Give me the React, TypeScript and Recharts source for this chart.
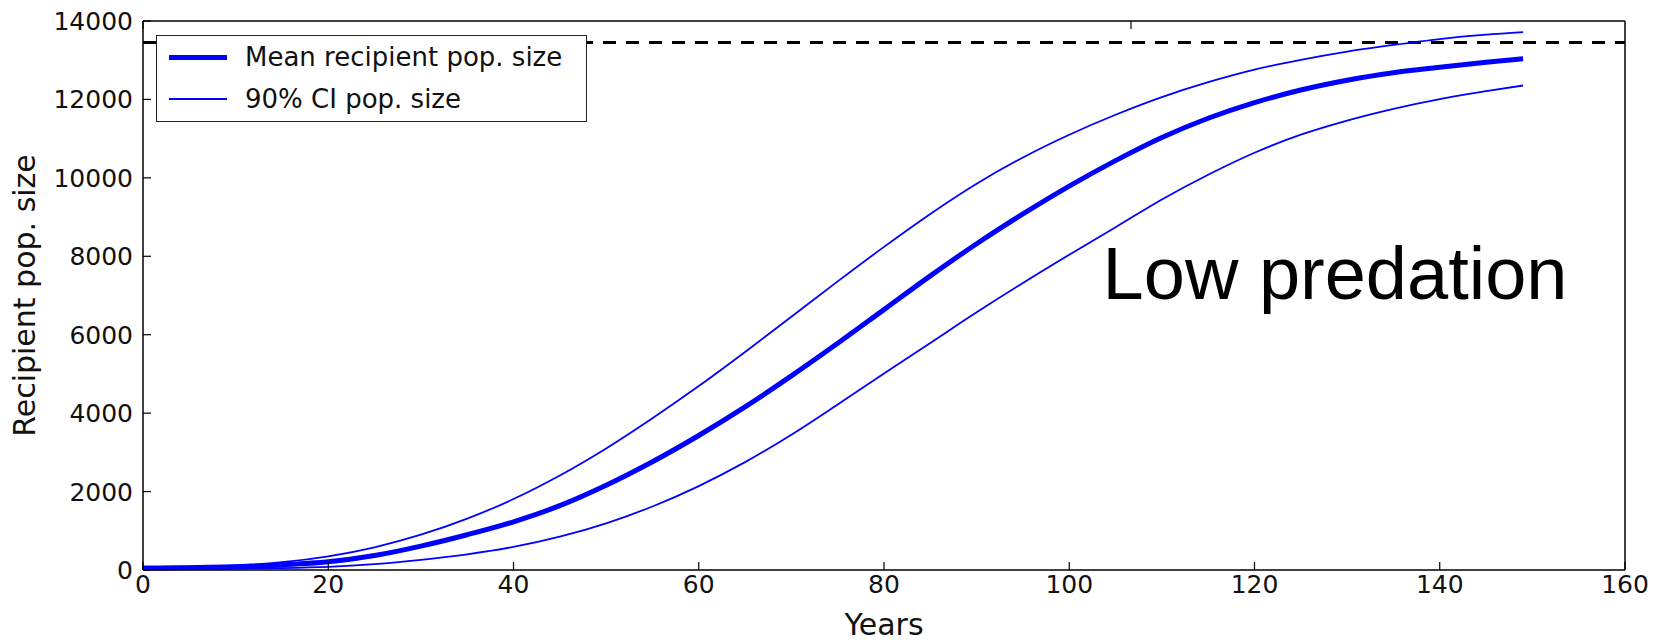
import {
  Label,
  Line,
  LineChart,
  ReferenceDot,
  ReferenceLine,
  XAxis,
  YAxis,
} from "recharts";

const years = [
  0, 5, 10, 15, 20, 25, 30, 35, 40, 45, 50, 55, 60, 65, 70, 75, 80, 85, 90, 95,
  100, 105, 110, 115, 120, 125, 130, 135, 140, 145, 149,
];

const meanPop = [
  50, 60, 80, 130, 210, 370, 610, 900, 1230, 1640, 2160, 2760, 3430, 4160,
  4950, 5780, 6640, 7500, 8320, 9080, 9790, 10440, 11030, 11520, 11920, 12240,
  12490, 12680, 12820, 12950, 13040,
];

const upperCI = [
  80, 90, 120, 200, 350, 580, 900, 1310, 1810, 2410, 3100, 3870, 4690, 5560,
  6460, 7360, 8240, 9080, 9850, 10520, 11100, 11610, 12060, 12440, 12760,
  13010, 13220, 13390, 13540, 13650, 13714,
];

const lowerCI = [
  30, 35, 40, 50, 80, 150, 260, 400, 590, 850, 1190, 1620, 2140, 2750, 3450,
  4220, 5010, 5790, 6570, 7320, 8040, 8740, 9450, 10080, 10640, 11100, 11460,
  11760, 12010, 12210, 12355,
];

const xTicks = [0, 20, 40, 60, 80, 100, 120, 140, 160];
const yTicks = [0, 2000, 4000, 6000, 8000, 10000, 12000, 14000];

// carrying capacity (dashed) and where the annotation sits, in data units
const capacity = 13450;
const annotationAt = { year: 103.6, pop: 6910 };

const rows = years.map((year, i) => ({
  year,
  mean: meanPop[i],
  upper: upperCI[i],
  lower: lowerCI[i],
}));

const FONT = "'DejaVu Sans', sans-serif";
const TICK_LEN = 8;

/** Ticks point into the plot on every side (matplotlib classic look). */
function BottomTick(props: any) {
  const { x = 0, y = 0, payload } = props;
  return (
    <g>
      <line x1={x} x2={x} y1={y} y2={y - TICK_LEN} stroke="#000" strokeWidth={1.2} />
      <text x={x} y={y + 23} textAnchor="middle" fontSize={25} fontFamily={FONT} fill="#111">
        {payload?.value}
      </text>
    </g>
  );
}

function TopTick(props: any) {
  const { x = 0, y = 0 } = props;
  return <line x1={x} x2={x} y1={y} y2={y + TICK_LEN} stroke="#000" strokeWidth={1.2} />;
}

function LeftTick(props: any) {
  const { x = 0, y = 0, payload } = props;
  return (
    <g>
      <line x1={x} x2={x + TICK_LEN} y1={y} y2={y} stroke="#000" strokeWidth={1.2} />
      <text x={x - 10} y={y + 9} textAnchor="end" fontSize={25} fontFamily={FONT} fill="#111">
        {payload?.value}
      </text>
    </g>
  );
}

function RightTick(props: any) {
  const { x = 0, y = 0 } = props;
  return <line x1={x} x2={x - TICK_LEN} y1={y} y2={y} stroke="#000" strokeWidth={1.2} />;
}

function LegendBox() {
  const row = (thick: boolean, text: string, top: number) => (
    <div style={{ position: "absolute", left: 0, top, height: 0, width: "100%" }}>
      <div
        style={{
          position: "absolute",
          left: 12,
          width: 58,
          top: thick ? -2.5 : -1,
          height: thick ? 5 : 2,
          background: "#0000ff",
        }}
      />
      <div
        style={{
          position: "absolute",
          left: 88,
          top: -17,
          fontFamily: FONT,
          fontSize: 26,
          lineHeight: "34px",
          whiteSpace: "nowrap",
          color: "#111",
        }}
      >
        {text}
      </div>
    </div>
  );
  return (
    <div
      style={{
        position: "absolute",
        left: 156,
        top: 35,
        width: 431,
        height: 87,
        boxSizing: "border-box",
        border: "1.5px solid #222",
        background: "#fff",
      }}
    >
      {row(true, "Mean recipient pop. size", 21)}
      {row(false, "90% CI pop. size", 63)}
    </div>
  );
}

export default function App() {
  return (
    <div style={{ position: "relative", width: 1655, height: 643, background: "#fff" }}>
      <style>{`body{margin:0}`}</style>
      <LineChart
        width={1655}
        height={643}
        data={rows}
        margin={{ top: 20, right: 29, bottom: 33, left: 43 }}
      >
        <XAxis
          dataKey="year"
          type="number"
          domain={[0, 160]}
          ticks={xTicks}
          interval={0}
          height={40}
          tickSize={0}
          tickMargin={0}
          tickLine={false}
          axisLine={{ stroke: "#000", strokeWidth: 1.5 }}
          tick={<BottomTick />}
        >
          <Label
            content={({ viewBox }: any) => (
              <text
                x={viewBox.x + viewBox.width / 2}
                y={viewBox.y + 65}
                textAnchor="middle"
                fontSize={30}
                fontFamily={FONT}
                fill="#111"
              >
                Years
              </text>
            )}
          />
        </XAxis>
        <XAxis
          xAxisId="top"
          orientation="top"
          type="number"
          domain={[0, 160]}
          ticks={xTicks}
          interval={0}
          height={1}
          tickSize={0}
          tickMargin={0}
          tickLine={false}
          axisLine={{ stroke: "#000", strokeWidth: 1.5 }}
          tick={<TopTick />}
        />
        <YAxis
          type="number"
          domain={[0, 14000]}
          ticks={yTicks}
          interval={0}
          width={100}
          tickSize={0}
          tickMargin={0}
          tickLine={false}
          axisLine={{ stroke: "#000", strokeWidth: 1.5 }}
          tick={<LeftTick />}
        >
          <Label
            content={({ viewBox }: any) => {
              const cx = viewBox.x + viewBox.width - 108;
              const cy = viewBox.y + viewBox.height / 2;
              return (
                <text
                  x={cx}
                  y={cy}
                  textAnchor="middle"
                  transform={`rotate(-90, ${cx}, ${cy})`}
                  fontSize={30}
                  fontFamily={FONT}
                  fill="#111"
                >
                  Recipient pop. size
                </text>
              );
            }}
          />
        </YAxis>
        <YAxis
          yAxisId="right"
          orientation="right"
          type="number"
          domain={[0, 14000]}
          ticks={yTicks}
          interval={0}
          width={1}
          tickSize={0}
          tickMargin={0}
          tickLine={false}
          axisLine={{ stroke: "#000", strokeWidth: 1.5 }}
          tick={<RightTick />}
        />
        <ReferenceLine
          y={capacity}
          stroke="#000"
          strokeWidth={3}
          strokeDasharray="13 10"
        />
        <Line
          dataKey="upper"
          stroke="#0000ff"
          strokeWidth={1.8}
          dot={false}
          type="monotone"
          isAnimationActive={false}
        />
        <Line
          dataKey="lower"
          stroke="#0000ff"
          strokeWidth={1.8}
          dot={false}
          type="monotone"
          isAnimationActive={false}
        />
        <Line
          dataKey="mean"
          stroke="#0000ff"
          strokeWidth={5}
          dot={false}
          type="monotone"
          isAnimationActive={false}
        />
        <ReferenceDot
          x={annotationAt.year}
          y={annotationAt.pop}
          r={0}
          shape={(p: any) => (
            <text
              x={p.cx}
              y={p.cy}
              fontSize={74}
              fontFamily="'Liberation Sans', Arial, sans-serif"
              fill="#000"
            >
              Low predation
            </text>
          )}
        />
      </LineChart>
      <LegendBox />
    </div>
  );
}
